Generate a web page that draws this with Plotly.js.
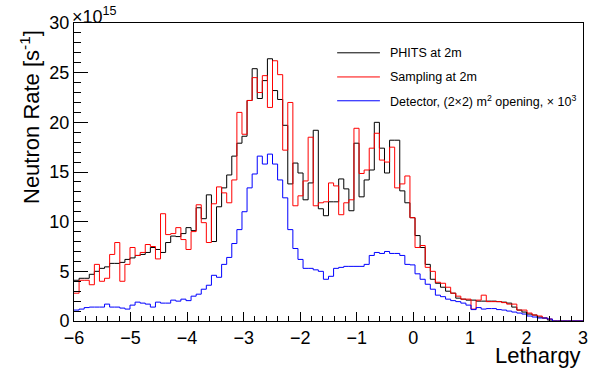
<!DOCTYPE html>
<html>
<head>
<meta charset="utf-8">
<script src="https://cdn.plot.ly/plotly-3.0.1.min.js"></script>
<style>
  html, body { margin: 0; padding: 0; background: #fff; }
  #plot { width: 598px; height: 376px; }
</style>
</head>
<body>
<div id="plot"></div>
<script>
// lethargy binning: 100 bins from -6 to 3
const xMin = -6;
const xMax = 3;
const nBins = 100;

// neutron rate per bin, in units of 1e15 s^-1
const phits = [
  4.1, 4.3, 4.3, 4.7, 5.0, 5.3, 5.45, 5.8, 5.8, 5.9,
  6.2, 6.35, 6.6, 6.7, 6.9, 7.4, 7.2, 6.9, 7.9, 8.55,
  8.5, 8.8, 9.4, 9.1, 11.4, 10.3, 12.7, 8.0, 11.5, 13.4,
  14.7, 16.6, 17.9, 18.6, 22.2, 25.4, 22.4, 24.2, 26.4, 23.2,
  22.3, 19.7, 13.8, 15.9, 14.9, 12.2, 13.9, 19.2, 11.3, 10.6,
  12.0, 12.0, 14.3, 13.3, 11.1, 17.9, 12.5, 14.2, 15.2, 20.0,
  17.4, 14.9, 18.2, 18.2, 13.1, 11.9, 10.4, 8.6, 7.4, 5.7,
  4.2, 3.8, 3.4, 3.0, 2.8, 2.3, 2.2, 2.1, 2.1, 2.0,
  2.0, 2.0, 2.0, 1.95, 1.9, 1.8, 1.4, 1.1, 0.9, 0.7,
  0.6, 0.4, 0.3, 0.1, 0, 0, 0, 0, 0, 0
];

const sampling = [
  2.8, 4.1, 4.1, 3.65, 5.7, 4.0, 4.3, 6.7, 7.9, 4.0,
  5.7, 7.4, 6.6, 6.9, 7.7, 7.5, 6.25, 10.8, 8.7, 8.8,
  9.4, 8.2, 7.2, 9.0, 11.7, 9.9, 7.9, 11.8, 13.5, 12.9,
  11.9, 14.2, 21.0, 18.8, 22.2, 24.5, 23.0, 24.7, 21.5, 26.2,
  24.8, 17.2, 22.0, 11.6, 12.6, 14.1, 18.5, 11.6, 11.9, 12.0,
  13.9, 13.6, 10.7, 11.9, 12.2, 19.4, 14.85, 15.2, 17.4, 18.9,
  16.2, 16.0, 17.5, 13.4, 13.8, 14.6, 10.4, 7.4, 7.6, 5.4,
  5.0, 3.9, 3.8, 3.4, 2.8, 2.5, 2.2, 2.2, 1.2, 2.1,
  2.6, 1.95, 1.95, 1.95, 1.85, 1.7, 1.7, 1.1, 1.1, 0.8,
  0.6, 0.5, 0.3, 0.2, 0, 0, 0, 0, 0, 0
];

const detector = [
  1.1, 1.2, 1.35, 1.4, 1.4, 1.4, 1.7, 1.4, 1.4, 1.3,
  1.2, 1.6, 1.9, 1.8, 1.7, 1.4, 1.9, 1.8, 1.8, 2.1,
  2.0, 2.2, 2.05, 2.5, 2.7, 3.2, 3.6, 4.6, 4.4, 5.7,
  6.4, 7.8, 9.2, 11.0, 13.4, 14.8, 16.6, 15.8, 16.8, 15.8,
  14.2, 12.4, 9.2, 7.3, 6.2, 5.3, 5.3, 5.15, 5.0, 4.2,
  4.5, 5.3, 5.4, 5.5, 5.5, 5.5, 5.5, 5.7, 6.6, 6.9,
  6.8, 7.0, 6.8, 6.8, 6.6, 5.7, 5.65, 4.75, 4.2, 3.7,
  3.2, 2.6, 2.45, 2.2, 2.05, 1.95, 1.8, 1.6, 1.15, 1.35,
  1.2, 1.25, 1.25, 1.15, 1.1, 1.0, 0.9, 0.8, 0.7, 0.5,
  0.4, 0.3, 0.3, 0.2, 0, 0, 0, 0, 0, 0
];

const seriesNames = [
  'PHITS at 2m',
  'Sampling at 2m',
  'Detector, (2×2) m<sup>2</sup> opening, × 10<sup>3</sup>'
];
const seriesColors = ['#000000', '#ff0000', '#0000ff'];

const fontFamily = '"Liberation Sans", Arial, Helvetica, sans-serif';

// bin edges, step outline drawn with 'hv'
function stepTrace(values, color) {
    const w = (xMax - xMin) / nBins;
    const x = [];
    const y = [];
    for (let i = 0; i < values.length; i++) {
        x.push(xMin + i * w);
        y.push(values[i]);
    }
    x.push(xMax);
    y.push(values[values.length - 1]);
    return {
        type: 'scatter',
        mode: 'lines',
        x: x,
        y: y,
        line: { shape: 'hv', color: color, width: 1 },
        hoverinfo: 'skip',
        showlegend: false
    };
}

function initPlot() {
    const traces = [
        stepTrace(phits, seriesColors[0]),
        stepTrace(sampling, seriesColors[1]),
        stepTrace(detector, seriesColors[2])
    ];

    // legend drawn by hand, ROOT style (no box)
    const legX0 = 0.517, legX1 = 0.601, legText = 0.617;
    const legY = [0.900, 0.819, 0.739];
    const shapes = [];
    const annotations = [];
    for (let k = 0; k < 3; k++) {
        shapes.push({
            type: 'line', xref: 'paper', yref: 'paper',
            x0: legX0, x1: legX1, y0: legY[k], y1: legY[k],
            line: { color: seriesColors[k], width: 1 }
        });
        annotations.push({
            xref: 'paper', yref: 'paper', x: legText, y: legY[k],
            xanchor: 'left', yanchor: 'middle', showarrow: false,
            text: seriesNames[k],
            font: { family: fontFamily, size: 12.5, color: '#000' }
        });
    }

    // axis titles, right aligned like ROOT
    annotations.push({
        xref: 'paper', yref: 'paper', x: 0, y: 1,
        xanchor: 'center', yanchor: 'top', xshift: -44, yshift: -5,
        textangle: -90, showarrow: false,
        text: 'Neutron Rate [s<sup>-1</sup>]',
        font: { family: fontFamily, size: 22, color: '#000' }
    });
    annotations.push({
        xref: 'paper', yref: 'paper', x: 1, y: 0,
        xanchor: 'right', yanchor: 'top', yshift: -20, showarrow: false,
        text: 'Lethargy',
        font: { family: fontFamily, size: 22, color: '#000' }
    });
    // exponent
    annotations.push({
        xref: 'paper', yref: 'paper', x: 0, y: 1,
        xanchor: 'left', yanchor: 'bottom', xshift: -4, yshift: -6,
        showarrow: false,
        text: '×10<sup>15</sup>',
        font: { family: fontFamily, size: 18, color: '#000' }
    });

    const layout = {
        width: 598,
        height: 376,
        margin: { l: 74, r: 15, t: 23, b: 55 },
        paper_bgcolor: '#fff',
        plot_bgcolor: '#fff',
        font: { family: fontFamily, size: 18, color: '#000' },
        showlegend: false,
        xaxis: {
            range: [xMin, xMax],
            dtick: 1,
            tick0: 0,
            ticks: 'inside',
            ticklen: 9,
            tickcolor: '#000',
            showline: true,
            linecolor: '#000',
            linewidth: 1,
            mirror: true,
            showgrid: false,
            zeroline: false,
            tickfont: { family: fontFamily, size: 18 },
            minor: { dtick: 0.2, ticks: 'inside', ticklen: 5, tickcolor: '#000', showgrid: false }
        },
        yaxis: {
            range: [0, 30],
            dtick: 5,
            tick0: 0,
            ticks: 'inside',
            ticklen: 14,
            tickcolor: '#000',
            showline: true,
            linecolor: '#000',
            linewidth: 1,
            mirror: true,
            showgrid: false,
            zeroline: false,
            tickfont: { family: fontFamily, size: 18 },
            minor: { dtick: 1, ticks: 'inside', ticklen: 7, tickcolor: '#000', showgrid: false }
        },
        shapes: shapes,
        annotations: annotations
    };

    const config = { displayModeBar: false, staticPlot: true };

    Plotly.newPlot('plot', traces, layout, config);
}

document.addEventListener('DOMContentLoaded', initPlot);
</script>
</body>
</html>
